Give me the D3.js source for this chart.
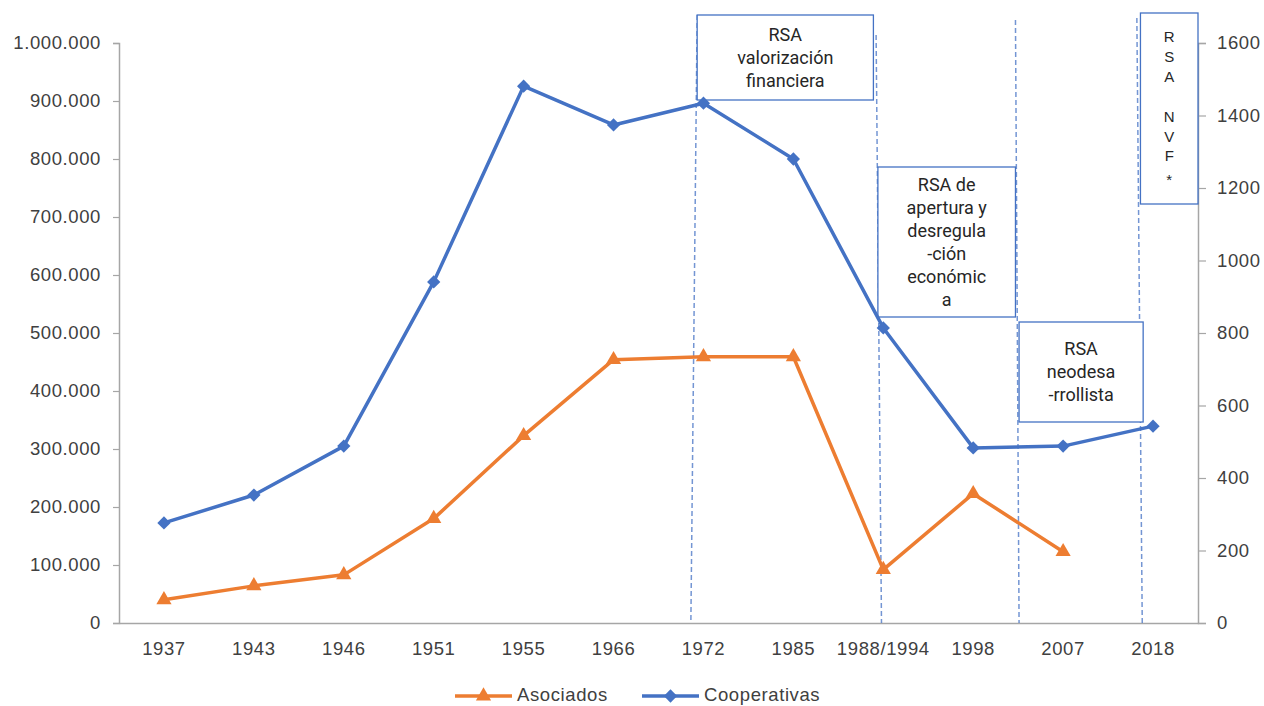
<!DOCTYPE html>
<html>
<head>
<meta charset="utf-8">
<script src="https://cdn.jsdelivr.net/npm/d3@7"></script>
<style>
  html, body { margin: 0; padding: 0; background: #fff; }
  svg { display: block; }
</style>
</head>
<body>
<svg id="chart" width="1264" height="706"></svg>
<script>
// Categories (survey years) and the two series
const years = ["1937", "1943", "1946", "1951", "1955", "1966", "1972", "1985", "1988/1994", "1998", "2007", "2018"];
const asociados = [40000, 64000, 83000, 180000, 323000, 454000, 459000, 459000, 92000, 223000, 123000, null];
const cooperativas = [276, 353, 488, 941, 1481, 1374, 1434, 1280, 814, 483, 488, 543];

const leftTicks = [0, 100000, 200000, 300000, 400000, 500000, 600000, 700000, 800000, 900000, 1000000];
const rightTicks = [0, 200, 400, 600, 800, 1000, 1200, 1400, 1600];

// Period dividers, in category units (top end, bottom end, top y)
const dividers = [[5.93, 5.86, 15], [7.92, 7.98, 35], [9.47, 9.51, 20], [10.82, 10.88, 18]];

// Period annotation boxes
const periods = [
  { lines: ["RSA", "valorización", "financiera"], from: 5.93, to: 7.89, top: 15, bottom: 100 },
  { lines: ["RSA de", "apertura y", "desregula", "-ción", "económic", "a"], from: 7.94, to: 9.47, top: 167, bottom: 317 },
  { lines: ["RSA", "neodesa", "-rrollista"], from: 9.51, to: 10.89, top: 322, bottom: 422 }
];
const verticalLabel = { letters: ["R", "S", "A", "", "N", "V", "F", "*"], from: 10.86, to: 11.5, top: 13, bottom: 204 };

const ORANGE = "#ED7D31", BLUE = "#4472C4", AXIS = "#A6A6A6", TEXT = "#404040";
const FONT = "'Liberation Sans', Arial, sans-serif";

const svg = d3.select("#chart");
const margin = { left: 119, right: 1198, top: 43, bottom: 623 };

const x = d3.scaleBand().domain(years).range([margin.left, margin.right]).padding(0);
const bw = x.bandwidth();
const xc = d => x(d) + bw / 2;
const xf = f => margin.left + bw * (f + 0.5);
const yL = d3.scaleLinear().domain([0, 1000000]).range([margin.bottom, margin.top]);
const yR = d3.scaleLinear().domain([0, 1600]).range([margin.bottom, margin.top]);

const esFmt = d3.formatLocale({ decimal: ",", thousands: ".", grouping: [3], currency: ["", ""] }).format(",d");

// Axes
const gL = svg.append("g").attr("transform", `translate(${margin.left},0)`)
  .call(d3.axisLeft(yL).tickValues(leftTicks).tickFormat(esFmt).tickSizeOuter(0).tickSize(6).tickPadding(12));
const gR = svg.append("g").attr("transform", `translate(${margin.right},0)`)
  .call(d3.axisRight(yR).tickValues(rightTicks).tickFormat(d3.format("d")).tickSizeOuter(0).tickSize(8).tickPadding(11));
const gB = svg.append("g").attr("transform", `translate(0,${margin.bottom})`)
  .call(d3.axisBottom(x).tickSize(0).tickPadding(19));

[gL, gR, gB].forEach(g => {
  g.select(".domain").attr("stroke", AXIS).attr("stroke-width", 1.5);
  g.selectAll(".tick line").attr("stroke", AXIS).attr("stroke-width", 1.2);
  g.selectAll(".tick text").attr("fill", TEXT).style("font-family", FONT)
    .style("font-size", "18.5px").style("letter-spacing", "0.6px");
});

// Period divider lines
svg.append("g").selectAll("line").data(dividers).join("line")
  .attr("x1", d => xf(d[0])).attr("y1", d => d[2])
  .attr("x2", d => xf(d[1])).attr("y2", margin.bottom)
  .attr("stroke", BLUE).attr("stroke-opacity", 0.75)
  .attr("stroke-width", 1.5).attr("stroke-dasharray", "5,3");

// Annotation boxes
const boxes = svg.append("g");
periods.forEach(p => {
  const x0 = xf(p.from), x1 = xf(p.to);
  boxes.append("rect").attr("x", x0).attr("y", p.top).attr("width", x1 - x0).attr("height", p.bottom - p.top)
    .attr("fill", "#fff").attr("stroke", BLUE).attr("stroke-width", 1.3);
  const cx = (x0 + x1) / 2, lh = 23;
  const startY = (p.top + p.bottom) / 2 - (p.lines.length - 1) * lh / 2 + 6;
  boxes.append("text").attr("text-anchor", "middle").attr("fill", "#262626")
    .style("font-family", "Roboto, sans-serif").style("font-size", "18px")
    .selectAll("tspan").data(p.lines).join("tspan")
    .attr("x", cx).attr("y", (d, i) => startY + i * lh).text(d => d);
});
{
  const v = verticalLabel, x0 = xf(v.from), x1 = xf(v.to);
  boxes.append("rect").attr("x", x0).attr("y", v.top).attr("width", x1 - x0).attr("height", v.bottom - v.top)
    .attr("fill", "#fff").attr("stroke", BLUE).attr("stroke-width", 1.3);
  boxes.append("text").attr("text-anchor", "middle").attr("fill", "#262626")
    .style("font-family", FONT).style("font-size", "15px")
    .selectAll("tspan").data(v.letters).join("tspan")
    .attr("x", (x0 + x1) / 2).attr("y", (d, i) => 42 + i * 20 - (i >= 6 ? 1 : 0) + (i === 7 ? 4 : 0)).text(d => d);
}

// Series lines
const lineL = d3.line().defined(d => d.v != null).x(d => xc(d.k)).y(d => yL(d.v));
const lineR = d3.line().x(d => xc(d.k)).y(d => yR(d.v));
const asoData = years.map((k, i) => ({ k, v: asociados[i] }));
const coopData = years.map((k, i) => ({ k, v: cooperativas[i] }));

svg.append("path").datum(asoData).attr("d", lineL).attr("fill", "none")
  .attr("stroke", ORANGE).attr("stroke-width", 3.5).attr("stroke-linejoin", "round");
svg.append("path").datum(coopData).attr("d", lineR).attr("fill", "none")
  .attr("stroke", BLUE).attr("stroke-width", 3.5).attr("stroke-linejoin", "round");

const tri = d3.symbol().type(d3.symbolTriangle).size(100);
const sq = d3.symbol().type(d3.symbolSquare).size(88);

svg.append("g").selectAll("path").data(asoData.filter(d => d.v != null)).join("path")
  .attr("d", tri).attr("transform", d => `translate(${xc(d.k)},${yL(d.v)})`).attr("fill", ORANGE);
svg.append("g").selectAll("path").data(coopData).join("path")
  .attr("d", sq).attr("transform", d => `translate(${xc(d.k)},${yR(d.v)}) rotate(45)`).attr("fill", BLUE);

// Legend
const legend = svg.append("g").style("font-family", FONT).style("font-size", "18.5px");
const items = [
  { name: "Asociados", color: ORANGE, sym: tri, rot: 0, x: 455 },
  { name: "Cooperativas", color: BLUE, sym: sq, rot: 45, x: 642 }
];
items.forEach(it => {
  const ly = 696;
  legend.append("line").attr("x1", it.x).attr("x2", it.x + 57).attr("y1", ly).attr("y2", ly)
    .attr("stroke", it.color).attr("stroke-width", 3.5);
  legend.append("path").attr("d", it.sym).attr("transform", `translate(${it.x + 28.5},${ly}) rotate(${it.rot})`).attr("fill", it.color);
  legend.append("text").attr("x", it.x + 62).attr("y", 701).attr("fill", TEXT)
    .style("letter-spacing", "0.6px").text(it.name);
});
</script>
</body>
</html>
